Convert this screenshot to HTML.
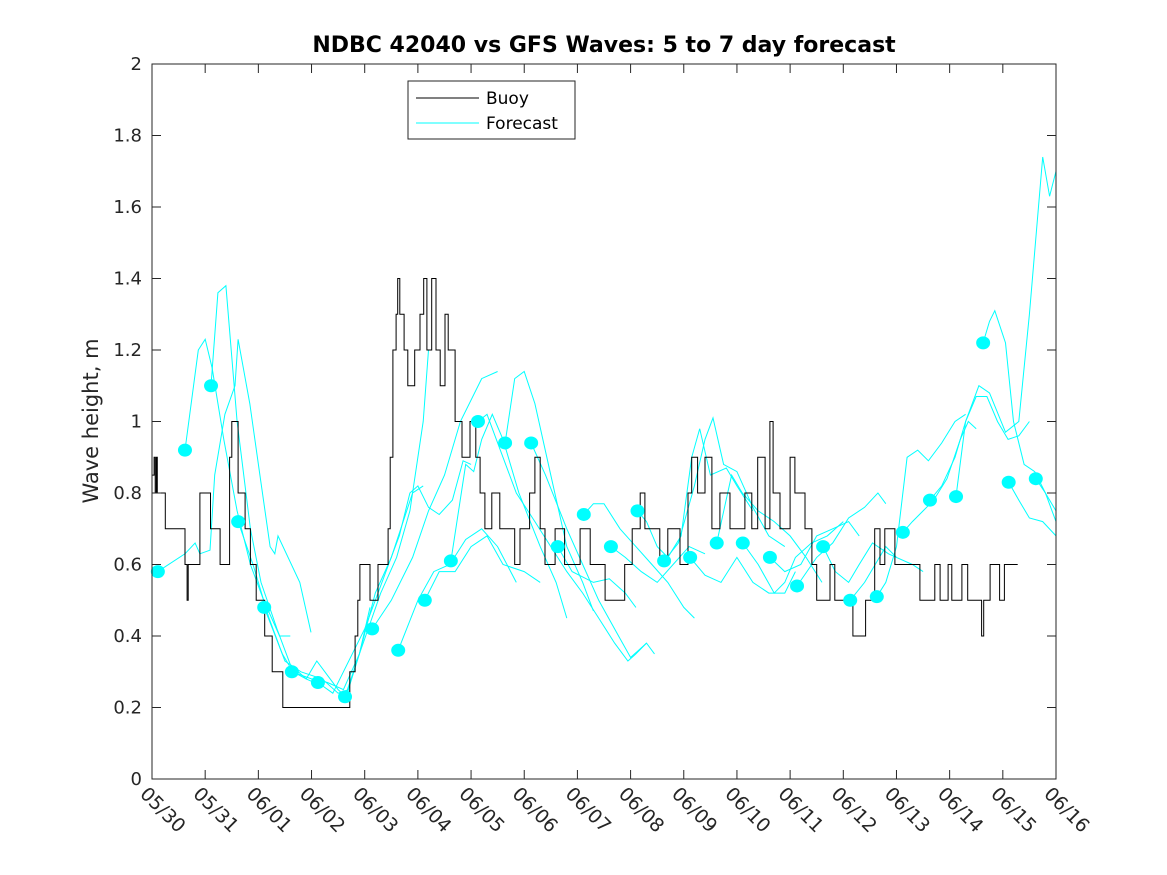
<!DOCTYPE html>
<html><head><meta charset="utf-8"><style>
html,body{margin:0;padding:0;background:#fff}
svg{display:block;font-family:"DejaVu Sans","Liberation Sans",sans-serif}
</style></head><body>
<svg id="chart" width="1167" height="875" viewBox="0 0 1167 875" xmlns="http://www.w3.org/2000/svg">
<rect width="1167" height="875" fill="#fff"/>
<text x="604" y="52" text-anchor="middle" font-size="22" font-weight="bold" fill="#000">NDBC 42040 vs GFS Waves: 5 to 7 day forecast</text>
<text transform="translate(98,421) rotate(-90)" text-anchor="middle" font-size="21" fill="#262626">Wave height, m</text>
<g id="plot"></g>
<rect x="152" y="64" width="904" height="715" fill="none" stroke="#262626" stroke-width="1"/>
<g id="axes"></g>
<g>
<rect x="408" y="81" width="167" height="58" fill="#fff" stroke="#262626" stroke-width="1"/>
<line x1="416" y1="98" x2="479" y2="98" stroke="#000" stroke-width="1"/>
<text x="486" y="104" font-size="17" fill="#000">Buoy</text>
<line x1="416" y1="123" x2="479" y2="123" stroke="#00ffff" stroke-width="1"/>
<text x="486" y="129" font-size="17" fill="#000">Forecast</text>
</g>
</svg>
<script>
const xTickLabels = ["05/30","05/31","06/01","06/02","06/03","06/04","06/05","06/06","06/07","06/08","06/09","06/10","06/11","06/12","06/13","06/14","06/15","06/16"];
const yTicks = [0,0.2,0.4,0.6,0.8,1,1.2,1.4,1.6,1.8,2];
const yTickLabels = ["0","0.2","0.4","0.6","0.8","1","1.2","1.4","1.6","1.8","2"];
const buoyDays = [0,0.04,0.06,0.08,0.1,0.25,0.62,0.66,0.68,0.9,1.1,1.28,1.46,1.5,1.62,1.75,1.85,1.96,2.12,2.26,2.46,3.72,3.82,3.87,3.91,4.1,4.25,4.44,4.48,4.53,4.59,4.62,4.66,4.74,4.81,4.94,5.04,5.11,5.17,5.26,5.34,5.42,5.51,5.57,5.7,5.83,5.98,6.09,6.17,6.26,6.39,6.54,6.82,6.92,7.1,7.2,7.3,7.39,7.58,7.76,8.05,8.24,8.52,8.89,9.03,9.18,9.27,9.55,9.7,9.93,10.08,10.15,10.26,10.4,10.53,10.68,10.87,11.15,11.28,11.39,11.53,11.62,11.68,11.81,12.0,12.09,12.28,12.41,12.5,12.75,12.84,13.18,13.42,13.59,13.69,13.78,13.97,14.44,14.72,14.82,14.97,15.04,15.23,15.34,15.6,15.64,15.76,15.94,16.03,16.28];
const buoyVals = [0.85,0.9,0.8,0.9,0.8,0.7,0.6,0.5,0.6,0.8,0.7,0.6,0.9,1.0,0.8,0.7,0.6,0.5,0.4,0.3,0.2,0.3,0.4,0.5,0.6,0.5,0.6,0.7,0.9,1.2,1.3,1.4,1.3,1.2,1.1,1.2,1.3,1.4,1.2,1.4,1.2,1.1,1.3,1.2,1.0,0.9,1.0,0.9,0.8,0.7,0.8,0.7,0.6,0.7,0.8,0.9,0.7,0.6,0.7,0.6,0.7,0.6,0.5,0.6,0.7,0.8,0.7,0.6,0.7,0.6,0.8,0.9,0.8,0.9,0.7,0.8,0.7,0.8,0.7,0.9,0.7,1.0,0.8,0.7,0.9,0.8,0.7,0.6,0.5,0.6,0.5,0.4,0.5,0.7,0.6,0.7,0.6,0.5,0.6,0.5,0.6,0.5,0.6,0.5,0.4,0.5,0.6,0.5,0.6,0.6];
const dotDays = [0.11,0.62,1.11,1.62,2.11,2.63,3.12,3.63,4.14,4.63,5.13,5.62,6.13,6.64,7.13,7.63,8.12,8.63,9.13,9.63,10.12,10.62,11.11,11.62,12.13,12.62,13.13,13.63,14.12,14.63,15.12,15.63,16.11,16.62];
const dotVals = [0.58,0.92,1.10,0.72,0.48,0.30,0.27,0.23,0.42,0.36,0.50,0.61,1.00,0.94,0.94,0.65,0.74,0.65,0.75,0.61,0.62,0.66,0.66,0.62,0.54,0.65,0.50,0.51,0.69,0.78,0.79,1.22,0.83,0.84];
const fcDays = [
 [0.11,0.62,0.81,0.9,1.09,1.18,1.37,1.56,1.62,1.84,2.03,2.22,2.31,2.37,2.78,2.99],
 [0.62,0.87,1.0,1.13,1.35,1.6,1.85,2.1,2.4,2.6],
 [1.11,1.24,1.39,1.6,1.85,2.05,2.35,2.6,2.9,3.2],
 [1.62,1.9,2.2,2.5,2.8,3.2,3.5,3.7],
 [2.11,2.45,2.65,2.9,3.1,3.5,3.65,3.9,4.1],
 [2.63,3.0,3.3,3.6,3.9,4.2,4.5,4.9,5.1],
 [3.12,3.4,3.6,4.0,4.2,4.45,4.65,4.85,5.0,5.2,5.4,5.65,5.85,6.0],
 [3.63,3.9,4.3,4.6,4.85,5.1,5.2],
 [4.14,4.5,4.9,5.2,5.5,5.8,6.2,6.5],
 [4.63,5.0,5.3,5.6,5.9,6.2,6.5,6.85],
 [5.13,5.4,5.7,6.0,6.3,6.6,7.0,7.3],
 [5.62,5.9,6.05,6.2,6.4,6.6,6.9,7.3,7.6,7.8],
 [6.13,6.3,6.55,6.85,7.2,7.5,7.8,8.1,8.4,8.7,8.95,9.1,9.3,9.45],
 [6.64,6.82,7.0,7.2,7.5,7.8,8.1,8.3],
 [7.13,7.4,7.8,8.1,8.4,8.7,9.0,9.3],
 [7.63,7.9,8.3,8.6,8.9,9.1],
 [8.12,8.3,8.5,8.8,9.1,9.4,9.7,10.0,10.2],
 [8.63,8.9,9.2,9.5,9.8,10.1,10.4],
 [9.13,9.3,9.5,9.7,9.95,10.15,10.3,10.5,10.8,11.0,11.3],
 [9.63,9.9,10.2,10.4,10.55,10.75,11.0,11.3,11.6,11.9],
 [10.12,10.4,10.7,11.0,11.3,11.6,11.9,12.1],
 [10.62,10.9,11.1,11.4,11.7,12.0,12.3,12.6],
 [11.11,11.4,11.7,11.9,12.1,12.4,12.7,13.0],
 [11.62,11.9,12.2,12.5,12.8,13.1,13.3],
 [12.13,12.5,12.8,13.1,13.4,13.65,13.8],
 [12.62,12.85,13.1,13.3,13.55,13.85,14.0],
 [13.13,13.4,13.6,13.8,14.0,14.3,14.5],
 [13.63,13.8,14.0,14.2,14.4,14.6,14.85,15.1,15.3],
 [14.12,14.3,14.5,14.7,14.95,15.2,15.35,15.5],
 [14.63,14.85,15.1,15.3,15.5,15.7,15.9,16.1,16.3,16.5],
 [15.12,15.3,15.55,15.75,16.05,16.3,16.5,16.75,16.88,17.0],
 [15.63,15.75,15.85,16.05,16.2,16.4,16.6,16.8,17.0],
 [16.11,16.3,16.5,16.75,17.0],
 [16.62,16.8,17.0]
];
const fcVals = [
 [0.58,0.63,0.66,0.63,0.64,0.85,1.02,1.1,1.23,1.05,0.85,0.65,0.63,0.68,0.55,0.41],
 [0.92,1.2,1.23,1.15,0.95,0.75,0.6,0.5,0.4,0.4],
 [1.10,1.36,1.38,1.0,0.7,0.55,0.42,0.32,0.28,0.26],
 [0.72,0.6,0.45,0.33,0.3,0.28,0.24,0.25],
 [0.48,0.35,0.3,0.28,0.33,0.25,0.23,0.35,0.48],
 [0.30,0.28,0.27,0.25,0.35,0.52,0.62,0.8,0.82],
 [0.27,0.24,0.3,0.42,0.5,0.6,0.68,0.8,0.82,0.76,0.74,0.78,0.89,0.88],
 [0.23,0.35,0.52,0.62,0.75,1.0,1.2],
 [0.42,0.5,0.62,0.75,0.85,1.0,1.12,1.14],
 [0.36,0.5,0.58,0.6,0.67,0.7,0.65,0.55],
 [0.50,0.58,0.58,0.65,0.68,0.6,0.58,0.55],
 [0.61,0.88,0.86,0.95,1.02,0.95,0.8,0.65,0.55,0.45],
 [1.00,1.02,0.92,0.8,0.72,0.65,0.58,0.52,0.45,0.38,0.33,0.35,0.38,0.35],
 [0.94,1.12,1.14,1.05,0.85,0.65,0.55,0.47],
 [0.94,0.85,0.7,0.6,0.5,0.42,0.34,0.38],
 [0.65,0.58,0.55,0.56,0.52,0.48],
 [0.74,0.77,0.77,0.7,0.65,0.6,0.55,0.48,0.45],
 [0.65,0.62,0.58,0.55,0.6,0.65,0.63],
 [0.75,0.72,0.65,0.62,0.68,0.9,0.98,0.85,0.87,0.82,0.75],
 [0.61,0.66,0.82,0.95,1.01,0.88,0.86,0.76,0.68,0.65],
 [0.62,0.57,0.55,0.62,0.55,0.52,0.52,0.58],
 [0.66,0.85,0.8,0.75,0.72,0.68,0.62,0.55],
 [0.66,0.6,0.52,0.55,0.62,0.66,0.68,0.72],
 [0.62,0.58,0.6,0.68,0.7,0.72,0.68],
 [0.54,0.62,0.66,0.73,0.76,0.8,0.77],
 [0.65,0.58,0.55,0.6,0.66,0.63,0.62],
 [0.50,0.55,0.6,0.65,0.62,0.6,0.58],
 [0.51,0.55,0.65,0.9,0.92,0.89,0.94,1.0,1.02],
 [0.69,0.72,0.75,0.78,0.84,0.95,1.0,0.98],
 [0.78,0.82,0.9,1.0,1.07,1.07,1.0,0.95,0.96,1.0],
 [0.79,1.0,1.1,1.08,0.97,1.0,1.3,1.74,1.63,1.7],
 [1.22,1.28,1.31,1.22,1.0,0.88,0.86,0.8,0.72],
 [0.83,0.78,0.73,0.72,0.68],
 [0.84,0.8,0.75]
];

const X0=152,X1=1056,Y0=779,Y1=64,DAYS=17,YMAX=2;
function sx(d){return X0+(X1-X0)*d/DAYS;}
function sy(v){return Y0-(Y0-Y1)*v/YMAX;}
const NS="http://www.w3.org/2000/svg";
const plot=document.getElementById('plot');
const axes=document.getElementById('axes');
function mk(tag,attrs,parent){const e=document.createElementNS(NS,tag);for(const k in attrs)e.setAttribute(k,attrs[k]);parent.appendChild(e);return e;}

fcDays.forEach((ds,i)=>{
  const pts=ds.map((d,j)=>sx(d).toFixed(1)+","+sy(fcVals[i][j]).toFixed(1)).join(" ");
  const pl=mk('polyline',{points:pts,fill:'none',stroke:'#00ffff','stroke-width':1},plot);
  
  
});
let bp=[];
for(let i=0;i<buoyDays.length;i++){
  if(i>0) bp.push(sx(buoyDays[i]).toFixed(1)+","+sy(buoyVals[i-1]).toFixed(1));
  bp.push(sx(buoyDays[i]).toFixed(1)+","+sy(buoyVals[i]).toFixed(1));
}
const buoy=mk('polyline',{points:bp.join(" "),fill:'none',stroke:'#000','stroke-width':1},plot);


dotDays.forEach((d,i)=>{
  const c=mk('ellipse',{cx:sx(d),cy:sy(dotVals[i]),rx:7,ry:6.5,fill:'#00ffff'},plot);
  
  
});
yTicks.forEach((v,i)=>{
  const y=sy(v);
  mk('line',{x1:X0,y1:y,x2:X0+9,y2:y,stroke:'#262626'},axes);
  mk('line',{x1:X1,y1:y,x2:X1-9,y2:y,stroke:'#262626'},axes);
  const t=mk('text',{x:X0-10,y:y+6,'text-anchor':'end','font-size':18,fill:'#262626'},axes);
  t.textContent=yTickLabels[i];
  
  
});
xTickLabels.forEach((lab,i)=>{
  const x=sx(i);
  mk('line',{x1:x,y1:Y0,x2:x,y2:Y0-9,stroke:'#262626'},axes);
  mk('line',{x1:x,y1:Y1,x2:x,y2:Y1+9,stroke:'#262626'},axes);
  const t=mk('text',{x:0,y:0,'font-size':19,fill:'#262626',transform:'translate('+(x-13)+','+(Y0+16)+') rotate(45)'},axes);
  t.textContent=lab;
  
  
});
</script>
</body></html>
